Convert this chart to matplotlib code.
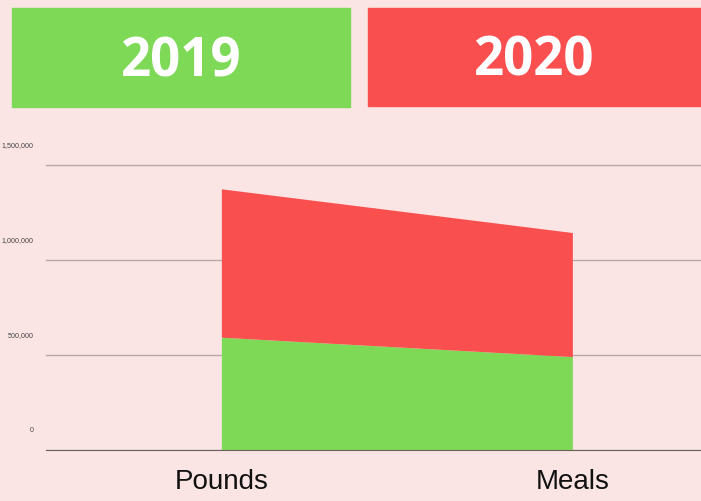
import matplotlib.pyplot as plt
from matplotlib.patches import Rectangle
from matplotlib.transforms import ScaledTranslation

# Data
categories = ["Pounds", "Meals"]
y2019 = [591000, 489000]
y2020 = [781000, 653000]
years = ["2019", "2020"]
yticks = [0, 500000, 1000000, 1500000]
ytick_labels = ["0", "500,000", "1,000,000", "1,500,000"]

bg = "#fae5e4"
green = "#7ed957"
red = "#f94f4f"

W, H = 701, 501
fig = plt.figure(figsize=(W / 100, H / 100), dpi=100, facecolor=bg)

# Header boxes
boxes = [(12, 8, 338, 99, green), (368, 8, 333, 98, red)]
for (x, y, w, h, c), label in zip(boxes, years):
    fig.patches.append(Rectangle((x / W, 1 - (y + h) / H), w / W, h / H,
                                 transform=fig.transFigure, color=c, zorder=0))
    fig.text((x + w / 2) / W, 1 - (y + h / 2 + 5) / H, label, color="white",
             fontsize=38, fontweight="bold", family="Open Sans",
             ha="center", va="center")

# Chart area
left, top, bottom = 46, 130, 450
ax = fig.add_axes([left / W, (H - bottom) / H, 1 - left / W, (bottom - top) / H])
ax.set_facecolor(bg)

x = range(len(categories))
ax.stackplot(x, y2019, y2020, colors=[green, red], zorder=2)

ax.set_xlim(-0.501, 1.365)
ax.set_ylim(0, (bottom - top) / 95 * 500000)

ax.set_xticks(list(x))
ax.set_xticklabels(categories, fontsize=20, family="Liberation Sans", color="#111111")
ax.tick_params(axis="x", length=0, pad=14)

ax.set_yticks(yticks)
ax.set_yticklabels(ytick_labels, fontsize=5.1, family="Liberation Sans", color="#444444")
ax.tick_params(axis="y", length=0, pad=9)
for lab in ax.get_yticklabels():
    lab.set_transform(lab.get_transform() + ScaledTranslation(0, 0.2, fig.dpi_scale_trans))

ax.yaxis.grid(True, color="#b8a8a8", linewidth=1, zorder=1)
ax.set_axisbelow(True)
for s in ["top", "right", "left"]:
    ax.spines[s].set_visible(False)
ax.spines["bottom"].set_color("#6b6060")
ax.spines["bottom"].set_zorder(3)

fig.savefig("out.png", dpi=100, facecolor=bg)
